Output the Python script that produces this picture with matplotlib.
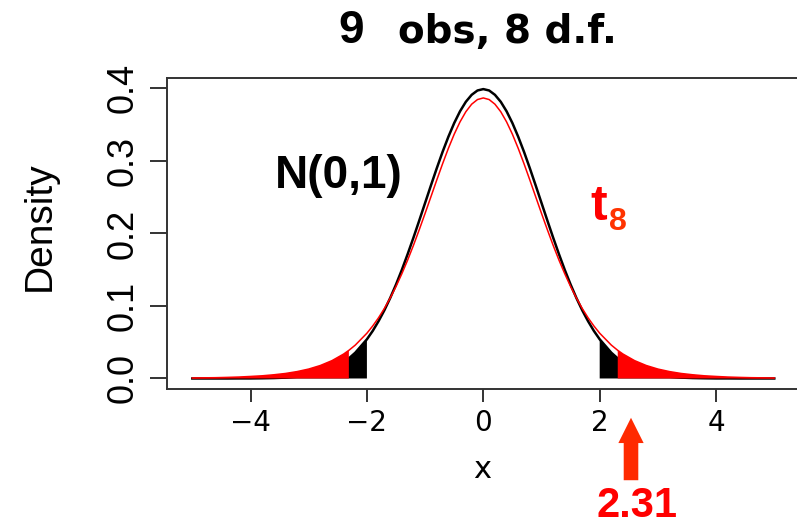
import matplotlib
matplotlib.use("Agg")
import matplotlib.pyplot as plt
import numpy as np
from matplotlib import font_manager

# --- data: densities (x >= 0, curves are symmetric) ---
x_half = [0.0, 0.1, 0.2, 0.3, 0.4, 0.5, 0.6, 0.7, 0.8, 0.9, 1.0,
          1.1, 1.2, 1.3, 1.4, 1.5, 1.6, 1.7, 1.8, 1.9, 2.0,
          2.2, 2.31, 2.4, 2.6, 2.8, 3.0, 3.2, 3.4, 3.6, 3.8,
          4.0, 4.2, 4.4, 4.6, 4.8, 5.0]
normal_half = [0.3989, 0.3970, 0.3910, 0.3814, 0.3683, 0.3521, 0.3332, 0.3123,
               0.2897, 0.2661, 0.2420, 0.2179, 0.1942, 0.1714, 0.1497, 0.1295,
               0.1109, 0.0940, 0.0790, 0.0656, 0.0540,
               0.0355, 0.0277, 0.0224, 0.0136, 0.0079, 0.0044, 0.0024, 0.0012,
               0.0006, 0.0003, 0.0001, 0.0001, 0.0, 0.0, 0.0, 0.0]
t8_half = [0.3867, 0.3845, 0.3781, 0.3677, 0.3537, 0.3367, 0.3172, 0.2959,
           0.2735, 0.2505, 0.2276, 0.2052, 0.1836, 0.1632, 0.1443, 0.1268,
           0.1109, 0.0965, 0.0837, 0.0724, 0.0624,
           0.0460, 0.0388, 0.0337, 0.0246, 0.0179, 0.0130, 0.0095, 0.0069,
           0.0051, 0.0037, 0.0028, 0.0020, 0.0015, 0.0011, 0.0009, 0.0007]
z_cut = 2.0      # normal critical value (black tails)
t_cut = 2.31     # t8 critical value (red tails)
x_ticks = [-4, -2, 0, 2, 4]
y_ticks = [0.0, 0.1, 0.2, 0.3, 0.4]

# mirror to the negative side
xh = np.array(x_half)
x = np.concatenate([-xh[:0:-1], xh])
y_norm = np.concatenate([np.array(normal_half)[:0:-1], normal_half])
y_t8 = np.concatenate([np.array(t8_half)[:0:-1], t8_half])

names = {f.name for f in font_manager.fontManager.ttflist}
narrow = 'Liberation Sans Narrow' if 'Liberation Sans Narrow' in names else 'Liberation Sans'

fig = plt.figure(figsize=(7.97, 5.26), dpi=100)
ax = fig.add_axes([167/797, 1 - 389/526, (801 - 167)/797, (389 - 78)/526])

# black N(0,1) curve first, then tails (black beyond 2, red beyond 2.31), red t8 curve on top
ax.plot(x, y_norm, color='black', lw=1.8, zorder=2)
ax.fill_between(x, 0, y_norm, where=np.abs(x) >= z_cut - 1e-9, color='black', lw=0, zorder=3)
ax.fill_between(x, 0, y_t8, where=np.abs(x) >= t_cut - 1e-9, color='#ff0000', lw=0, zorder=4)
ax.plot(x, y_t8, color='#ff0000', lw=1.1, zorder=5)

ax.set_xlim(-5.435, 5.459)
ax.set_ylim(-0.0145, 0.4142)
ax.set_xticks(x_ticks)
ax.set_yticks(y_ticks)
ax.set_yticklabels([f'{v:.1f}' for v in y_ticks])
for sp in ax.spines.values():
    sp.set_color('#333333')
    sp.set_linewidth(1.4)
ax.tick_params(axis='x', length=9.5, width=1.4, color='#333333', pad=5,
               labelsize=20)
ax.tick_params(axis='y', length=12, width=1.4, color='#333333', pad=7,
               labelsize=26)
for lab in ax.get_yticklabels():
    lab.set_family(narrow)
    lab.set_rotation(90)
    lab.set_va('center')

fig.text(40/797, 1 - 226/526, 'Density', rotation=90, ha='center', va='center',
         fontsize=28, family=narrow)
fig.text(482/797, 1 - 470/526, 'x', ha='center', va='center', fontsize=22)

# title pieces
fig.text(338/797, 1 - 43/526, '9', ha='left', va='baseline', fontsize=33,
         fontweight='bold', family='Liberation Sans')
fig.text(398/797, 1 - 43/526, 'obs, 8 d.f.', ha='left', va='baseline',
         fontsize=28, fontweight='bold', family='DejaVu Sans')

# curve labels
fig.text(275/797, 1 - 188/526, 'N(0,1)', ha='left', va='baseline', fontsize=33,
         fontweight='bold', family='Liberation Sans')
fig.text(590/797, 1 - 220/526, 't', ha='left', va='baseline', fontsize=36,
         fontweight='bold', family='Liberation Sans', color='#ff0000')
fig.text(609/797, 1 - 230/526, '8', ha='left', va='baseline', fontsize=23,
         fontweight='bold', family='Liberation Sans', color='#ff3300')

# arrow pointing at 2.31 and its label
ax.annotate('', xy=(631/797, 1 - 415/526), xycoords='figure fraction',
            xytext=(631/797, 1 - 483/526), textcoords='figure fraction',
            arrowprops=dict(arrowstyle='simple,head_length=1.3,head_width=1.3,tail_width=0.75',
                            color='#ff2a00', lw=0, mutation_scale=14),
            annotation_clip=False)
fig.text(637/797, 1 - 517/526, '2.31', ha='center', va='baseline', fontsize=30,
         fontweight='bold', family='Liberation Sans', color='#ff0000')

fig.savefig('out.png', dpi=100)
